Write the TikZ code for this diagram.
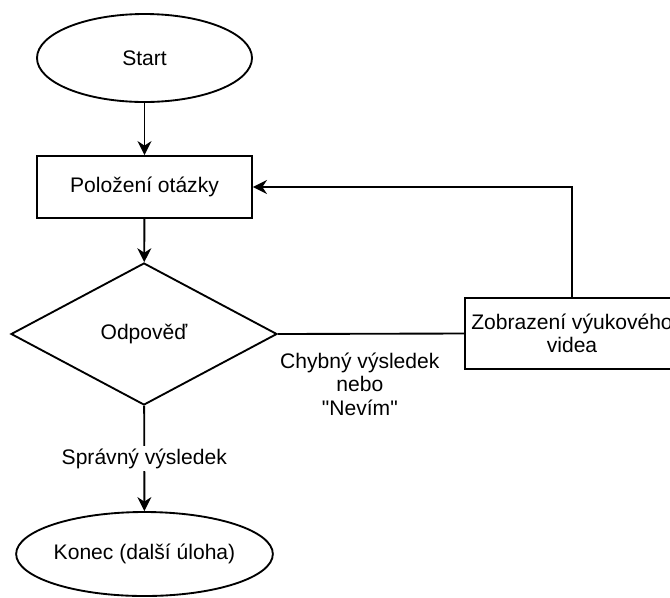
\documentclass[tikz,border=0pt]{standalone}
\usepackage{fontspec}
\setmainfont{Liberation Sans}[Ligatures=TeXOff]
\usetikzlibrary{shapes.geometric,arrows.meta}
\begin{document}
\begin{tikzpicture}[x=0.75pt,y=-0.75pt,line width=1.4pt]
    \tikzstyle{every node}+=[inner sep=0pt,font=\fontsize{15.8}{17.3}\selectfont]
    \tikzstyle{terminal}=[draw,ellipse,minimum width=161.25pt,minimum height=66pt]
    \tikzstyle{process}=[draw,rectangle,minimum width=161.25pt,minimum height=46.5pt]
    \tikzstyle{decision}=[draw,diamond,minimum width=199.5pt,minimum height=106.5pt]
    \tikzstyle{flow}=[-{Stealth[length=10.5pt,width=10.5pt]}]
    \useasboundingbox (0,0) rectangle (670,597);
    \node [terminal] (start) at (144.5,58) {Start};
    \node [process] (ask) at (144.5,187) {Položení otázky};
    \node [decision] (answer) at (144,334) {Odpověď};
    \node [process,minimum width=160.5pt,minimum height=53.25pt,align=center] (video) at (572,333.5) {Zobrazení výukového\\videa};
    \node [terminal,minimum height=63pt] (end) at (144.5,554) {Konec (další úloha)};
    \draw [flow] (start) -- (ask);
    \draw [flow] (ask) -- (answer);
    \draw [flow] (answer) -- node [fill=white,inner sep=2pt] {Správný výsledek} (end);
    \draw (answer.east) -- node [pos=0.44,below=14pt,align=center] {Chybný výsledek\\nebo\\"Nevím"} (video.west);
    \draw [flow] (video.north) |- (ask.east);
\end{tikzpicture}
\end{document}
